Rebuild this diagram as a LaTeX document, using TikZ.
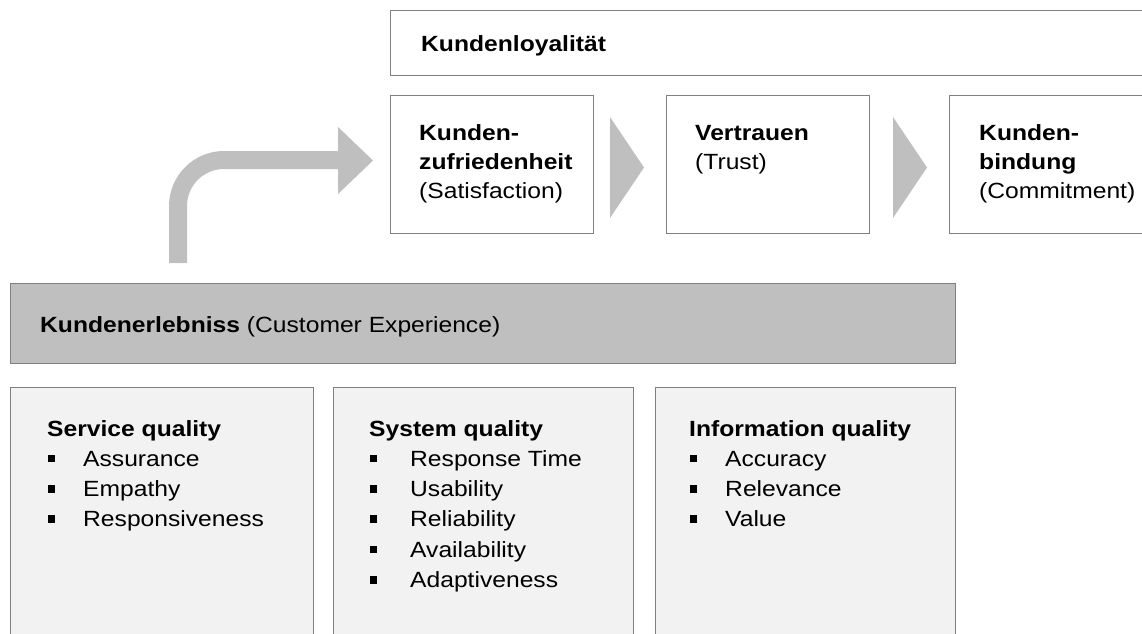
\documentclass[tikz,border=0pt]{standalone}
\usepackage{fontspec}
\setmainfont{Liberation Sans}[FakeStretch=1.12]
\definecolor{kd_line}{RGB}{128, 128, 128}
\definecolor{kd_bar}{RGB}{191, 191, 191}
\definecolor{kd_soft}{RGB}{242, 242, 242}
\usetikzlibrary{positioning}
\newcommand{\qbullet}[1]{\makebox[#1pt][l]{\hspace{1pt}\rule[4pt]{6.5pt}{7.5pt}}}

\begin{document}
\begin{tikzpicture}[x=1pt, y=-1pt,
        wbox/.style={draw=kd_line, line width=1.2pt, fill=white,
                     anchor=north west, inner sep=0pt},
        gbox/.style={wbox, fill=kd_soft},
        txt/.style={anchor=base west, inner sep=0pt,
                    font=\fontsize{22}{29}\selectfont},
        hd/.style={txt, font=\fontsize{22}{29}\selectfont\bfseries}]
        \useasboundingbox (0,0) rectangle (1142,633);
        \node[wbox, minimum width=770pt, minimum height=65pt] (loyal) at (390,10) {};
          \node[hd] (loyalT) at (421,51) {Kundenloyalität};
        \node[wbox, minimum width=203pt, minimum height=138pt] (zuf) at (390,95) {};
          \node[hd] (zuf1) at (419,140) {Kunden-};
          \node[hd] (zuf2) at (419,169) {zufriedenheit};
          \node[txt] (zuf3) at (419,198) {(Satisfaction)};
        \node[wbox, minimum width=203pt, minimum height=138pt] (ver) at (666,95) {};
          \node[hd] (ver1) at (695,140) {Vertrauen};
          \node[txt] (ver2) at (695,169) {(Trust)};
        \node[wbox, minimum width=220pt, minimum height=138pt] (bin) at (949,95) {};
          \node[hd] (bin1) at (979,140) {Kunden-};
          \node[hd] (bin2) at (979,169) {bindung};
          \node[txt] (bin3) at (979,198) {(Commitment)};
        \fill[kd_bar] (610,117) -- (644,167.5) -- (610,218) -- cycle;
        \fill[kd_bar] (893,117) -- (927,167.5) -- (893,218) -- cycle;
        \fill[kd_bar] (169,263) -- (169,206) arc[start angle=180, end angle=90, radius=55pt]
          -- (338,151) -- (338,127) -- (373,160.5) -- (338,194) -- (338,169) -- (224,169)
          arc[start angle=90, end angle=180, radius=37pt] -- (187,263) -- cycle;
        \node[wbox, fill=kd_bar, minimum width=945pt, minimum height=80pt] (exp) at (10,283) {};
          \node[txt] (expT) at (40,332) {\textbf{Kundenerlebniss} (Customer Experience)};
        \node[gbox, minimum width=303pt, minimum height=270pt] (serv) at (10,387) {};
          \node[hd] (servT) at (47,436) {Service quality};
          \foreach \t [count=\i] in {Assurance, Empathy, Responsiveness}
            \node[txt] (serv\i) at (47,436+30.3*\i) {\qbullet{36}\t};
        \node[gbox, minimum width=300pt, minimum height=270pt] (sys) at (333,387) {};
          \node[hd] (sysT) at (369,436) {System quality};
          \foreach \t [count=\i] in {Response Time, Usability, Reliability, Availability, Adaptiveness}
            \node[txt] (sys\i) at (369,436+30.3*\i) {\qbullet{41}\t};
        \node[gbox, minimum width=300pt, minimum height=270pt] (info) at (655,387) {};
          \node[hd] (infoT) at (689,436) {Information quality};
          \foreach \t [count=\i] in {Accuracy, Relevance, Value}
            \node[txt] (info\i) at (689,436+30.3*\i) {\qbullet{36}\t};
      \end{tikzpicture}
\end{document}
